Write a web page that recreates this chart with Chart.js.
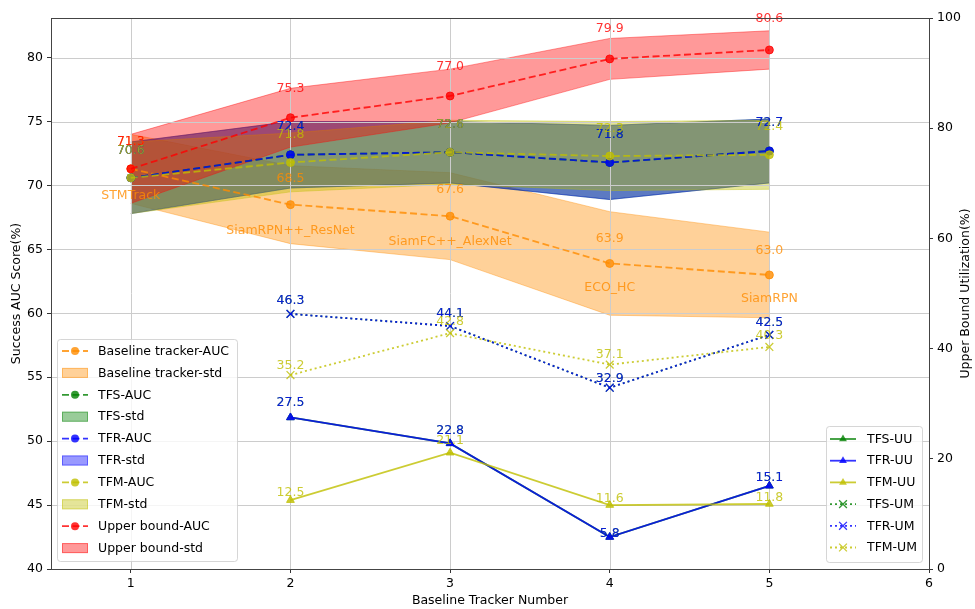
<!DOCTYPE html>
<html>
<head>
<meta charset="utf-8">
<script src="https://cdn.jsdelivr.net/npm/chart.js@4.4.1/dist/chart.umd.min.js"></script>
<style>
  html, body { margin: 0; padding: 0; background: #ffffff; }
  #wrap { width: 975px; height: 609px; position: relative; }
</style>
</head>
<body>
<div id="wrap"><canvas id="chart" width="975" height="609"></canvas></div>
<script>
// Tracker counts on the x axis and the newest baseline tracker added at each count
const trackerNumbers = [1, 2, 3, 4, 5];
const trackerNames = ['STMTrack', 'SiamRPN++_ResNet', 'SiamFC++_AlexNet', 'ECO_HC', 'SiamRPN'];

// Success AUC (%) means and standard deviations
const baselineAUC = [71.3, 68.5, 67.6, 63.9, 63.0];
const baselineStd = [2.7, 3.05, 3.4, 4.05, 3.35];
const tfsAUC = [70.6, 72.4, 72.6, 71.8, 72.7];
const tfsStd = [2.8, 2.6, 2.4, 2.9, 2.5];
const tfrAUC = [70.6, 72.4, 72.6, 71.8, 72.7];
const tfrStd = [2.8, 2.6, 2.4, 2.9, 2.5];
const tfmAUC = [70.6, 71.8, 72.6, 72.3, 72.4];
const tfmStd = [2.8, 2.3, 2.5, 2.7, 2.7];
const upperAUC = [71.3, 75.3, 77.0, 79.9, 80.6];
const upperStd = [2.7, 2.3, 2.1, 1.6, 1.5];

// Upper bound utilization (%) — only defined once two or more trackers are fused
const fusionTrackerNumbers = [2, 3, 4, 5];
const tfsUU = [27.5, 22.8, 5.8, 15.1];
const tfrUU = [27.5, 22.8, 5.8, 15.1];
const tfmUU = [12.5, 21.1, 11.6, 11.8];
const tfsUM = [46.3, 44.1, 32.9, 42.5];
const tfrUM = [46.3, 44.1, 32.9, 42.5];
const tfmUM = [35.2, 42.8, 37.1, 40.3];

// Tick labels
const xTicks = [1, 2, 3, 4, 5, 6];
const aucTicks = [40, 45, 50, 55, 60, 65, 70, 75, 80];
const utilTicks = [0, 20, 40, 60, 80, 100];

const FONT = "'DejaVu Sans', 'Liberation Sans', sans-serif";
const FS = 12.5;
const COL = {
  orange: [255, 140, 0],
  green: [0, 128, 0],
  blue: [0, 0, 255],
  yellow: [191, 191, 0],
  red: [255, 0, 0]
};
const rgba = (c, a) => `rgba(${c[0]},${c[1]},${c[2]},${a})`;

const aucSeries = [
  { name: 'Baseline tracker', auc: baselineAUC, std: baselineStd, col: COL.orange },
  { name: 'TFS', auc: tfsAUC, std: tfsStd, col: COL.green },
  { name: 'TFR', auc: tfrAUC, std: tfrStd, col: COL.blue },
  { name: 'TFM', auc: tfmAUC, std: tfmStd, col: COL.yellow },
  { name: 'Upper bound', auc: upperAUC, std: upperStd, col: COL.red }
];
const utilSeries = [
  { name: 'TFS-UU', vals: tfsUU, col: COL.green, kind: 'UU' },
  { name: 'TFR-UU', vals: tfrUU, col: COL.blue, kind: 'UU' },
  { name: 'TFM-UU', vals: tfmUU, col: COL.yellow, kind: 'UU' },
  { name: 'TFS-UM', vals: tfsUM, col: COL.green, kind: 'UM' },
  { name: 'TFR-UM', vals: tfrUM, col: COL.blue, kind: 'UM' },
  { name: 'TFM-UM', vals: tfmUM, col: COL.yellow, kind: 'UM' }
];

const DASH = [7, 3.5];
const DOT = [2, 3];
const LW = 1.8;

// Datasets listed in the order they should be painted (first = bottom)
const datasets = [];
aucSeries.forEach(s => {
  datasets.push({
    role: 'band',
    data: trackerNumbers.map((x, i) => ({ x, y: +(s.auc[i] - s.std[i]).toFixed(2) })),
    borderColor: rgba(s.col, 0.4), borderWidth: 1, pointRadius: 0, fill: false, yAxisID: 'y'
  });
  datasets.push({
    role: 'band',
    data: trackerNumbers.map((x, i) => ({ x, y: +(s.auc[i] + s.std[i]).toFixed(2) })),
    borderColor: rgba(s.col, 0.4), borderWidth: 1, pointRadius: 0,
    fill: '-1', backgroundColor: rgba(s.col, 0.4), yAxisID: 'y'
  });
});
aucSeries.forEach((s, k) => {
  datasets.push({
    role: k === aucSeries.length - 1 ? 'lastAuc' : 'auc',
    data: trackerNumbers.map((x, i) => ({ x, y: s.auc[i] })),
    borderColor: rgba(s.col, 0.8), borderWidth: LW, borderDash: DASH,
    pointStyle: 'circle', pointRadius: 4,
    pointBackgroundColor: rgba(s.col, 0.8), pointBorderColor: rgba(s.col, 0.8), pointBorderWidth: 1,
    fill: false, yAxisID: 'y'
  });
});
utilSeries.forEach(s => {
  const uu = s.kind === 'UU';
  datasets.push({
    role: 'util',
    data: fusionTrackerNumbers.map((x, i) => ({ x, y: s.vals[i] })),
    borderColor: rgba(s.col, 0.8), borderWidth: LW, borderDash: uu ? [] : DOT,
    pointStyle: uu ? 'triangle' : 'crossRot', pointRadius: uu ? 4.5 : 5.5,
    pointBackgroundColor: rgba(s.col, 0.8), pointBorderColor: rgba(s.col, 0.8),
    pointBorderWidth: uu ? 1 : 1.3,
    fill: false, yAxisID: 'y2'
  });
});
datasets.forEach((d, i) => { d.order = datasets.length - i; d.tension = 0; });

function drawGrid(chart) {
  const { ctx, chartArea: a, scales } = chart;
  ctx.save();
  ctx.strokeStyle = '#cccccc';
  ctx.lineWidth = 1;
  ctx.beginPath();
  xTicks.forEach(v => {
    const px = Math.round(scales.x.getPixelForValue(v)) + 0.5;
    if (px > a.left + 1 && px < a.right - 1) { ctx.moveTo(px, a.top); ctx.lineTo(px, a.bottom); }
  });
  aucTicks.forEach(v => {
    const py = Math.round(scales.y.getPixelForValue(v)) + 0.5;
    if (py > a.top + 1 && py < a.bottom - 1) { ctx.moveTo(a.left, py); ctx.lineTo(a.right, py); }
  });
  ctx.stroke();
  ctx.restore();
}

function label(ctx, text, x, y, color) {
  ctx.fillStyle = color;
  ctx.fillText(text, x, y);
}

// Value labels sit 3% above their points, tracker names 3% below
function drawAucLabels(chart) {
  const { ctx, scales } = chart;
  ctx.save();
  ctx.font = `${FS}px ${FONT}`;
  ctx.textAlign = 'center';
  ctx.textBaseline = 'middle';
  aucSeries.forEach((s, k) => {
    trackerNumbers.forEach((x, i) => {
      const px = scales.x.getPixelForValue(x);
      label(ctx, s.auc[i].toFixed(1), px, scales.y.getPixelForValue(s.auc[i] * 1.03), rgba(s.col, 0.8));
      if (k === 0) {
        label(ctx, trackerNames[i], px, scales.y.getPixelForValue(s.auc[i] * 0.97), rgba(s.col, 0.8));
      }
    });
  });
  ctx.restore();
}

function drawUtilLabels(chart) {
  const { ctx, scales } = chart;
  ctx.save();
  ctx.font = `${FS}px ${FONT}`;
  ctx.textAlign = 'center';
  ctx.textBaseline = 'middle';
  utilSeries.forEach(s => {
    const f = s.kind === 'UU' ? 1.1 : 1.05;
    fusionTrackerNumbers.forEach((x, i) => {
      label(ctx, s.vals[i].toFixed(1), scales.x.getPixelForValue(x),
        scales.y2.getPixelForValue(s.vals[i] * f), rgba(s.col, 0.8));
    });
  });
  ctx.restore();
}

function roundRect(ctx, x, y, w, h, r) {
  ctx.beginPath();
  ctx.moveTo(x + r, y);
  ctx.lineTo(x + w - r, y);
  ctx.arcTo(x + w, y, x + w, y + r, r);
  ctx.lineTo(x + w, y + h - r);
  ctx.arcTo(x + w, y + h, x + w - r, y + h, r);
  ctx.lineTo(x + r, y + h);
  ctx.arcTo(x, y + h, x, y + h - r, r);
  ctx.lineTo(x, y + r);
  ctx.arcTo(x, y, x + r, y, r);
  ctx.closePath();
}

function drawMarker(ctx, style, x, y, col) {
  ctx.save();
  ctx.setLineDash([]);
  ctx.fillStyle = rgba(col, 0.8);
  ctx.strokeStyle = rgba(col, 0.8);
  if (style === 'circle') {
    ctx.beginPath(); ctx.arc(x, y, 4, 0, Math.PI * 2); ctx.fill();
  } else if (style === 'triangle') {
    const r = 4.5;
    ctx.beginPath();
    ctx.moveTo(x, y - r);
    ctx.lineTo(x + r * 0.866, y + r * 0.5);
    ctx.lineTo(x - r * 0.866, y + r * 0.5);
    ctx.closePath(); ctx.fill();
  } else if (style === 'cross') {
    const d = 3.9;
    ctx.lineWidth = 1.3;
    ctx.beginPath();
    ctx.moveTo(x - d, y - d); ctx.lineTo(x + d, y + d);
    ctx.moveTo(x - d, y + d); ctx.lineTo(x + d, y - d);
    ctx.stroke();
  }
  ctx.restore();
}

function drawLegend(ctx, box, entries) {
  ctx.save();
  roundRect(ctx, box.x + 0.5, box.y + 0.5, box.w, box.h, 3);
  ctx.fillStyle = 'rgba(255,255,255,0.8)';
  ctx.fill();
  ctx.strokeStyle = 'rgba(204,204,204,0.8)';
  ctx.lineWidth = 1;
  ctx.stroke();
  ctx.font = `${FS}px ${FONT}`;
  ctx.textAlign = 'left';
  ctx.textBaseline = 'middle';
  entries.forEach((e, i) => {
    const cy = box.row0 + i * box.dy;
    const x0 = box.x + box.hx0, x1 = box.x + box.hx1, xm = (x0 + x1) / 2;
    if (e.type === 'patch') {
      ctx.fillStyle = rgba(e.col, 0.4);
      ctx.fillRect(x0, cy - 5, x1 - x0, 10);
      ctx.strokeStyle = rgba(e.col, 0.4);
      ctx.lineWidth = 1;
      ctx.strokeRect(x0 + 0.5, cy - 4.5, x1 - x0 - 1, 9);
    } else {
      ctx.strokeStyle = rgba(e.col, 0.8);
      ctx.lineWidth = LW;
      ctx.setLineDash(e.dash);
      ctx.beginPath(); ctx.moveTo(x0, cy); ctx.lineTo(x1, cy); ctx.stroke();
      ctx.setLineDash([]);
      drawMarker(ctx, e.marker, xm, cy, e.col);
    }
    ctx.fillStyle = '#000000';
    ctx.fillText(e.label, box.x + box.tx, cy + 0.5);
  });
  ctx.restore();
}

function drawOverlay(chart) {
  const { ctx, chartArea: a } = chart;
  // Axes frame
  ctx.save();
  ctx.strokeStyle = '#444444';
  ctx.lineWidth = 1;
  ctx.strokeRect(Math.round(a.left) + 0.5, Math.round(a.top) + 0.5,
    Math.round(a.right - a.left), Math.round(a.bottom - a.top));
  ctx.restore();

  // Legends
  const leftEntries = [];
  aucSeries.forEach(s => {
    leftEntries.push({ label: s.name + '-AUC', type: 'line', col: s.col, dash: DASH, marker: 'circle' });
    leftEntries.push({ label: s.name + '-std', type: 'patch', col: s.col });
  });
  drawLegend(ctx, { x: 57, y: 339, w: 180, h: 222, row0: 351, dy: 21.9, hx0: 5, hx1: 31, tx: 41 }, leftEntries);

  const rightEntries = utilSeries.map(s => ({
    label: s.name, type: 'line', col: s.col,
    dash: s.kind === 'UU' ? [] : DOT, marker: s.kind === 'UU' ? 'triangle' : 'cross'
  }));
  drawLegend(ctx, { x: 826, y: 426, w: 96, h: 136, row0: 439, dy: 21.7, hx0: 4, hx1: 30, tx: 41 }, rightEntries);

  // Axis titles
  ctx.save();
  ctx.font = `${FS}px ${FONT}`;
  ctx.fillStyle = '#000000';
  ctx.textAlign = 'center';
  ctx.textBaseline = 'middle';
  const cy = (a.top + a.bottom) / 2;
  ctx.fillText('Baseline Tracker Number', (a.left + a.right) / 2, 601);
  ctx.save(); ctx.translate(17, cy); ctx.rotate(-Math.PI / 2); ctx.fillText('Success AUC Score(%)', 0, 0); ctx.restore();
  ctx.save(); ctx.translate(966, cy); ctx.rotate(-Math.PI / 2); ctx.fillText('Upper Bound Utilization(%)', 0, 0); ctx.restore();
  ctx.restore();
}

const overlayPlugin = {
  id: 'overlay',
  beforeDatasetsDraw(chart) { chart.$gridDone = false; },
  beforeDatasetDraw(chart, args) {
    const ds = chart.data.datasets[args.index];
    if (!chart.$gridDone && ds.role !== 'band') { drawGrid(chart); chart.$gridDone = true; }
  },
  afterDatasetDraw(chart, args) {
    const ds = chart.data.datasets[args.index];
    if (ds.role === 'lastAuc') drawAucLabels(chart);
  },
  afterDatasetsDraw(chart) {
    if (!chart.$gridDone) { drawGrid(chart); chart.$gridDone = true; }
    drawUtilLabels(chart);
  },
  afterDraw(chart) { drawOverlay(chart); }
};

const tickFont = { family: FONT, size: FS };
new Chart(document.getElementById('chart'), {
  type: 'line',
  data: { datasets },
  options: {
    responsive: false,
    animation: false,
    devicePixelRatio: 1,
    events: [],
    layout: { padding: { top: 18, left: 0, right: 0, bottom: 0 } },
    plugins: { legend: { display: false }, tooltip: { enabled: false } },
    scales: {
      x: {
        type: 'linear', min: 0.5, max: 6,
        afterBuildTicks: s => { s.ticks = xTicks.map(v => ({ value: v })); },
        afterFit: s => { s.height = 40; },
        ticks: { font: tickFont, color: '#000', padding: 3, autoSkip: false, maxRotation: 0 },
        grid: { drawOnChartArea: false, drawTicks: true, tickLength: 4, tickColor: '#333', tickWidth: 1 },
        border: { display: false }
      },
      y: {
        type: 'linear', position: 'left', min: 40, max: 83.1,
        afterBuildTicks: s => { s.ticks = aucTicks.map(v => ({ value: v })); },
        afterFit: s => { s.width = 51; },
        ticks: { font: tickFont, color: '#000', padding: 4, autoSkip: false },
        grid: { drawOnChartArea: false, drawTicks: true, tickLength: 4, tickColor: '#333', tickWidth: 1 },
        border: { display: false }
      },
      y2: {
        type: 'linear', position: 'right', min: 0, max: 100,
        afterBuildTicks: s => { s.ticks = utilTicks.map(v => ({ value: v })); },
        afterFit: s => { s.width = 46; },
        ticks: { font: tickFont, color: '#000', padding: 4, autoSkip: false },
        grid: { drawOnChartArea: false, drawTicks: true, tickLength: 4, tickColor: '#333', tickWidth: 1 },
        border: { display: false }
      }
    }
  },
  plugins: [overlayPlugin]
});
</script>
</body>
</html>
